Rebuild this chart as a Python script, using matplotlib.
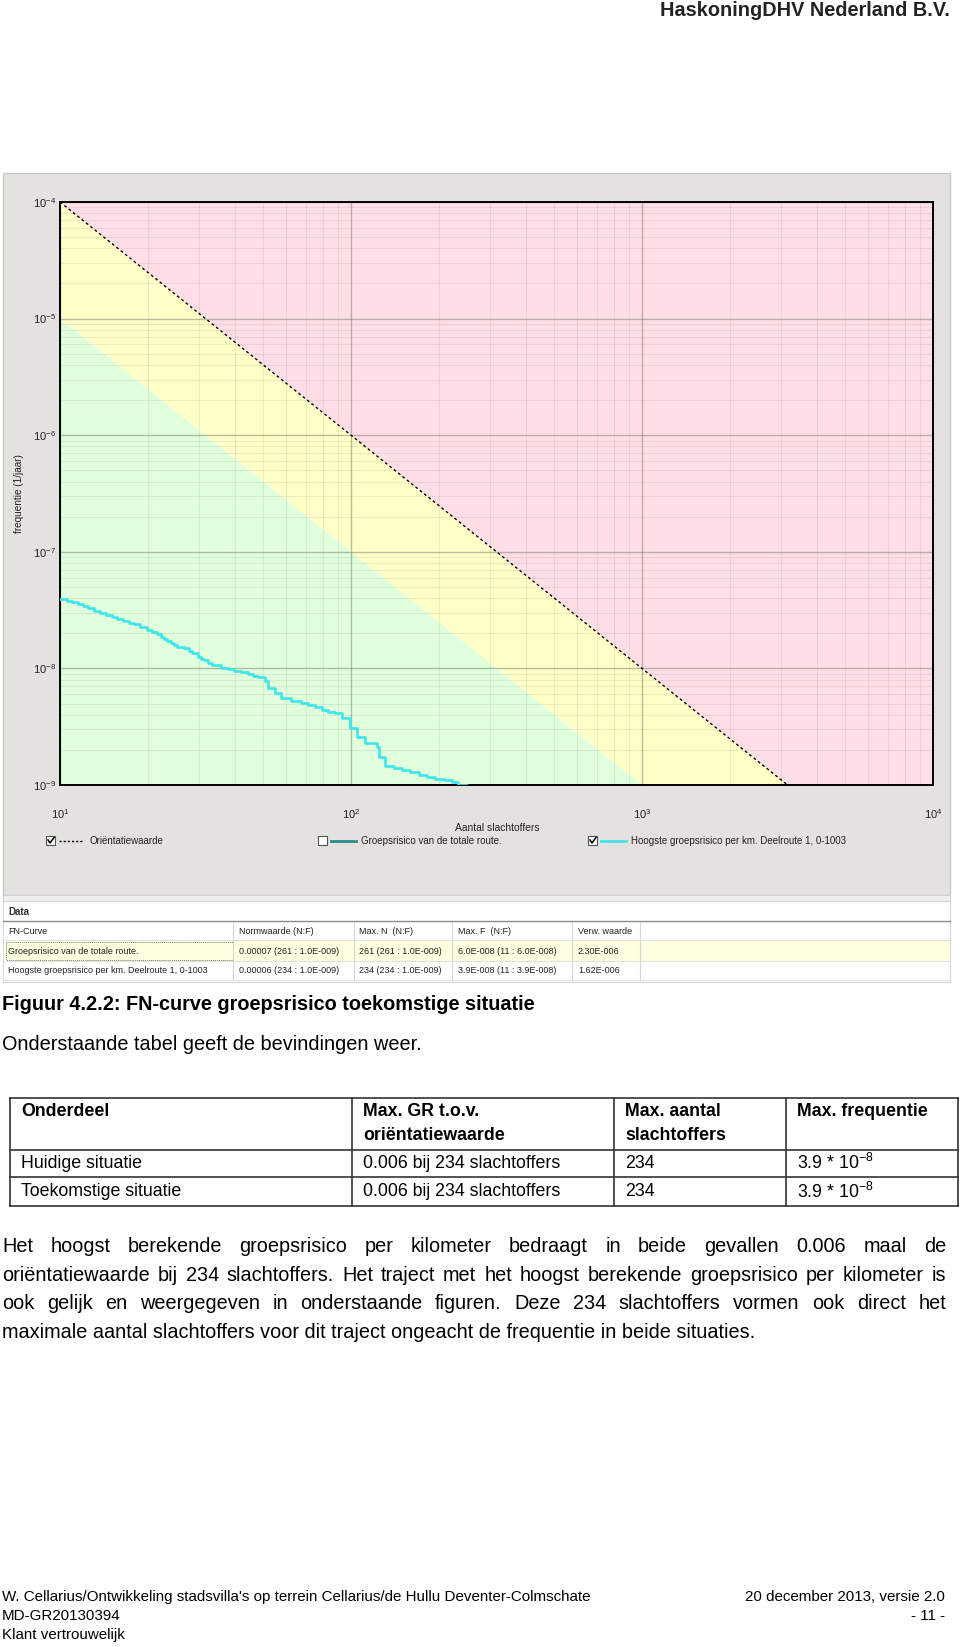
import matplotlib
matplotlib.use('Agg')
import matplotlib.pyplot as plt
from matplotlib.patches import Rectangle
from matplotlib.ticker import LogLocator, NullFormatter

W, H = 960, 1647
plt.rcParams['font.family'] = ['Liberation Sans', 'DejaVu Sans']

curve_n = [10, 10.54, 10.97, 11.57, 12.04, 12.5, 13.11, 13.75, 14.42, 15.09,
           15.7, 16.47, 17.23, 17.9, 18.9, 19.9, 20.75, 21.6, 22.17, 22.8,
           23.38, 24.0, 24.64, 25.3, 26.7, 27.77, 28.5, 29.7, 30.47, 31.3,
           32.3, 33.4, 35.7, 37.7, 39.7, 41.9, 44.2, 45.98, 47.9, 50.5,
           51.8, 54.6, 57.5, 62.3, 67.5, 71.25, 75.1, 79.2, 83.55, 88.1,
           92.9, 99.2, 99.2, 104.6, 111.8, 122.7, 124.4, 131.1, 140.2, 149.6,
           160, 171, 182.7, 195, 208.4, 222.6, 234, 250]
curve_f = [3.94e-8, 3.81e-8, 3.69e-8, 3.57e-8, 3.43e-8, 3.27e-8, 3.13e-8, 2.96e-8, 2.85e-8, 2.74e-8,
           2.63e-8, 2.53e-8, 2.47e-8, 2.39e-8, 2.26e-8, 2.13e-8, 2.04e-8, 1.96e-8, 1.87e-8, 1.78e-8,
           1.72e-8, 1.66e-8, 1.60e-8, 1.53e-8, 1.49e-8, 1.42e-8, 1.36e-8, 1.26e-8, 1.21e-8, 1.18e-8,
           1.12e-8, 1.07e-8, 1.01e-8, 9.82e-9, 9.56e-9, 9.25e-9, 8.95e-9, 8.65e-9, 8.38e-9, 7.80e-9,
           6.75e-9, 6.11e-9, 5.53e-9, 5.28e-9, 5.02e-9, 4.85e-9, 4.70e-9, 4.40e-9, 4.26e-9, 4.12e-9,
           3.73e-9, 3.61e-9, 3.06e-9, 2.59e-9, 2.28e-9, 2.13e-9, 1.75e-9, 1.46e-9, 1.41e-9, 1.35e-9,
           1.28e-9, 1.22e-9, 1.17e-9, 1.13e-9, 1.10e-9, 1.07e-9, 1.0e-9, 9.0e-10]

# orientatiewaarde (10^-2 / N^2) en 0.1 x orientatiewaarde
norm_n = [10, 10000]
norm_f = [1e-4, 1e-10]
norm_low_f = [1e-5, 1e-11]

x_ticks = [10, 100, 1000, 10000]
x_labels = [r'$\mathregular{10^{1}}$', r'$\mathregular{10^{2}}$',
            r'$\mathregular{10^{3}}$', r'$\mathregular{10^{4}}$']
y_ticks = [1e-4, 1e-5, 1e-6, 1e-7, 1e-8, 1e-9]
y_labels = [r'$\mathregular{10^{-4}}$', r'$\mathregular{10^{-5}}$',
            r'$\mathregular{10^{-6}}$', r'$\mathregular{10^{-7}}$',
            r'$\mathregular{10^{-8}}$', r'$\mathregular{10^{-9}}$']

legend_labels = ['Oriëntatiewaarde', 'Groepsrisico van de totale route.',
                 'Hoogste groepsrisico per km. Deelroute 1, 0-1003']
legend_checked = [True, False, True]

data_cols = ['FN-Curve', 'Normwaarde (N:F)', 'Max. N  (N:F)', 'Max. F  (N:F)', 'Verw. waarde']
data_rows = [
    ['Groepsrisico van de totale route.', '0.00007 (261 : 1.0E-009)',
     '261 (261 : 1.0E-009)', '6.0E-008 (11 : 6.0E-008)', '2.30E-006'],
    ['Hoogste groepsrisico per km. Deelroute 1, 0-1003', '0.00006 (234 : 1.0E-009)',
     '234 (234 : 1.0E-009)', '3.9E-008 (11 : 3.9E-008)', '1.62E-006'],
]

sum_header = [['Onderdeel'], ['Max. GR t.o.v.', 'oriëntatiewaarde'],
              ['Max. aantal', 'slachtoffers'], ['Max. frequentie']]
sum_rows = [
    ['Huidige situatie', '0.006 bij 234 slachtoffers', '234', r'3.9 * 10$\mathregular{^{-8}}$'],
    ['Toekomstige situatie', '0.006 bij 234 slachtoffers', '234', r'3.9 * 10$\mathregular{^{-8}}$'],
]

paragraph = [
    'Het hoogst berekende groepsrisico per kilometer bedraagt in beide gevallen 0.006 maal de',
    'oriëntatiewaarde bij 234 slachtoffers. Het traject met het hoogst berekende groepsrisico per kilometer is',
    'ook gelijk en weergegeven in onderstaande figuren. Deze 234 slachtoffers vormen ook direct het',
    'maximale aantal slachtoffers voor dit traject ongeacht de frequentie in beide situaties.',
]

fig = plt.figure(figsize=(W / 100, H / 100), dpi=100)
fig.patch.set_facecolor('white')

# pagina-laag in pixelcoordinaten
page = fig.add_axes([0, 0, 1, 1], zorder=0)
page.set_xlim(0, W)
page.set_ylim(H, 0)
page.axis('off')

# kop
page.text(950, 10, 'HaskoningDHV Nederland B.V.', fontsize=14.3, fontweight='bold',
          ha='right', va='center', color='#222222')

# screenshot achtergrond
page.add_patch(Rectangle((3, 173), 947, 722, facecolor='#e4e2de', edgecolor='#c9c9c9', lw=1))
page.add_patch(Rectangle((3, 895), 947, 6, facecolor='#f0f0f0', edgecolor='#d0d0d0', lw=0.8))
page.add_patch(Rectangle((3, 901), 947, 81, facecolor='white', edgecolor='#d8d8d8', lw=0.8))

# grafiek
ax = fig.add_axes([60 / W, 1 - 785 / H, 873 / W, 583 / H], zorder=2)
ax.set_xscale('log')
ax.set_yscale('log')
ax.set_xlim(10, 10000)
ax.set_ylim(1e-9, 1e-4)
ax.fill_between(norm_n, norm_f, [1, 1], color='#ffdfe5', lw=0, zorder=0.5)
ax.fill_between(norm_n, norm_low_f, norm_f, color='#ffffc8', lw=0, zorder=0.5)
ax.fill_between(norm_n, [1e-14, 1e-14], norm_low_f, color='#e0ffdc', lw=0, zorder=0.5)
ax.plot(norm_n, norm_f, color='black', lw=1, ls=(0, (2, 2)), zorder=3)
ax.step(curve_n, curve_f, where='post', color='#3ee6ea', lw=1.9, zorder=4)

ax.xaxis.set_minor_locator(LogLocator(base=10, subs=range(2, 10)))
ax.yaxis.set_minor_locator(LogLocator(base=10, subs=range(2, 10), numticks=20))
ax.xaxis.set_minor_formatter(NullFormatter())
ax.yaxis.set_minor_formatter(NullFormatter())
ax.grid(which='major', color='#6e6e60', alpha=0.45, lw=1)
ax.grid(which='minor', color='#8a8a80', alpha=0.16, lw=0.8)
ax.set_xticks(x_ticks)
ax.set_xticklabels(x_labels)
ax.set_yticks(y_ticks)
ax.set_yticklabels(y_labels)
ax.tick_params(which='both', length=0, labelsize=8, colors='#222222')
ax.tick_params(axis='x', pad=16)
ax.tick_params(axis='y', pad=3)
for sp in ax.spines.values():
    sp.set_color('black')
    sp.set_linewidth(1.4)

page.text(497, 828, 'Aantal slachtoffers', fontsize=7.4, ha='center', va='center', color='#222222')
page.text(19, 494, 'frequentie (1/jaar)', fontsize=7.2, rotation=90, ha='center', va='center', color='#222222')

# legenda
legend_x = [46, 318, 588]
legend_style = [dict(color='black', ls=(0, (1.5, 1.5)), lw=1),
                dict(color='#2b8a8c', lw=2),
                dict(color='#45e2e6', lw=2)]
for lx, lab, chk, st in zip(legend_x, legend_labels, legend_checked, legend_style):
    page.add_patch(Rectangle((lx, 836), 9, 9, facecolor='white', edgecolor='#555555', lw=0.8))
    if chk:
        page.plot([lx + 2, lx + 4, lx + 8], [840, 843, 837.5], color='black', lw=1.1)
    page.plot([lx + 13, lx + 38], [841, 841], **st)
    page.text(lx + 43, 841, lab, fontsize=7, ha='left', va='center', color='#222222')

# data-tabel in screenshot
page.text(8, 912, 'Data', fontsize=7, fontweight='bold', ha='left', va='center', color='#333333')
page.plot([3, 950], [921, 921], color='#8a8a8a', lw=1)
col_x = [5, 236, 356, 455, 575]
col_edges = [233, 354, 452, 572, 640]
page.add_patch(Rectangle((5, 941), 945, 20, facecolor='#ffffe1', edgecolor='none'))
page.add_patch(Rectangle((6, 942), 227, 18, facecolor='none', edgecolor='#777777',
                         lw=0.7, ls=(0, (1, 1))))
for cx, lab in zip(col_x, data_cols):
    page.text(cx + 3, 931, lab, fontsize=6.5, ha='left', va='center', color='#222222')
for r, row in enumerate(data_rows):
    yy = 951 + r * 19.5
    for cx, val in zip(col_x, row):
        page.text(cx + 3, yy, val, fontsize=6.5, ha='left', va='center', color='#222222')
for yl in [940, 961, 980]:
    page.plot([5, 950], [yl, yl], color='#e0e0e0', lw=0.8)
for xe in col_edges:
    page.plot([xe, xe], [922, 980], color='#d6d6d6', lw=0.8)

# bijschrift en tekst
page.text(2, 1004, 'Figuur 4.2.2: FN-curve groepsrisico toekomstige situatie', fontsize=14.3,
          fontweight='bold', ha='left', va='center', color='black')
page.text(2, 1044, 'Onderstaande tabel geeft de bevindingen weer.', fontsize=14.3,
          ha='left', va='center', color='black')

# samenvattende tabel
tab_x = [10, 352, 614, 786, 958]
tab_y = [1098, 1150, 1177, 1206]
for xv in tab_x:
    page.plot([xv, xv], [tab_y[0], tab_y[-1]], color='#333333', lw=1.2)
for yv in tab_y:
    page.plot([tab_x[0], tab_x[-1]], [yv, yv], color='#333333', lw=1.2)
for xv, lines in zip(tab_x[:-1], sum_header):
    for k, txt in enumerate(lines):
        page.text(xv + 11, 1111 + k * 24, txt, fontsize=12.8, fontweight='bold',
                  ha='left', va='center', color='black')
for r, row in enumerate(sum_rows):
    for xv, txt in zip(tab_x[:-1], row):
        page.text(xv + 11, 1163 + r * 28.5, txt, fontsize=12.8, ha='left', va='center', color='black')

# uitgevulde alinea
renderer = fig.canvas.get_renderer()
left, right = 2, 946
for i, line in enumerate(paragraph):
    yy = 1247 + i * 28.4
    if i == len(paragraph) - 1:
        page.text(left, yy, line, fontsize=14.3, ha='left', va='center', color='black')
        continue
    words = line.split()
    texts = [page.text(0, yy, w, fontsize=14.3, ha='left', va='center', color='black') for w in words]
    widths = [t.get_window_extent(renderer).width for t in texts]
    gap = (right - left - sum(widths)) / (len(words) - 1)
    x = left
    for t, wd in zip(texts, widths):
        t.set_x(x)
        x += wd + gap

# voettekst
page.text(2, 1597, "W. Cellarius/Ontwikkeling stadsvilla's op terrein Cellarius/de Hullu Deventer-Colmschate",
          fontsize=10.9, ha='left', va='center', color='black')
page.text(945, 1597, '20 december 2013, versie 2.0', fontsize=10.9, ha='right', va='center', color='black')
page.text(2, 1616, 'MD-GR20130394', fontsize=10.9, ha='left', va='center', color='black')
page.text(945, 1616, '- 11 -', fontsize=10.9, ha='right', va='center', color='black')
page.text(2, 1635, 'Klant vertrouwelijk', fontsize=10.9, ha='left', va='center', color='black')

fig.savefig('out.png', dpi=100)
